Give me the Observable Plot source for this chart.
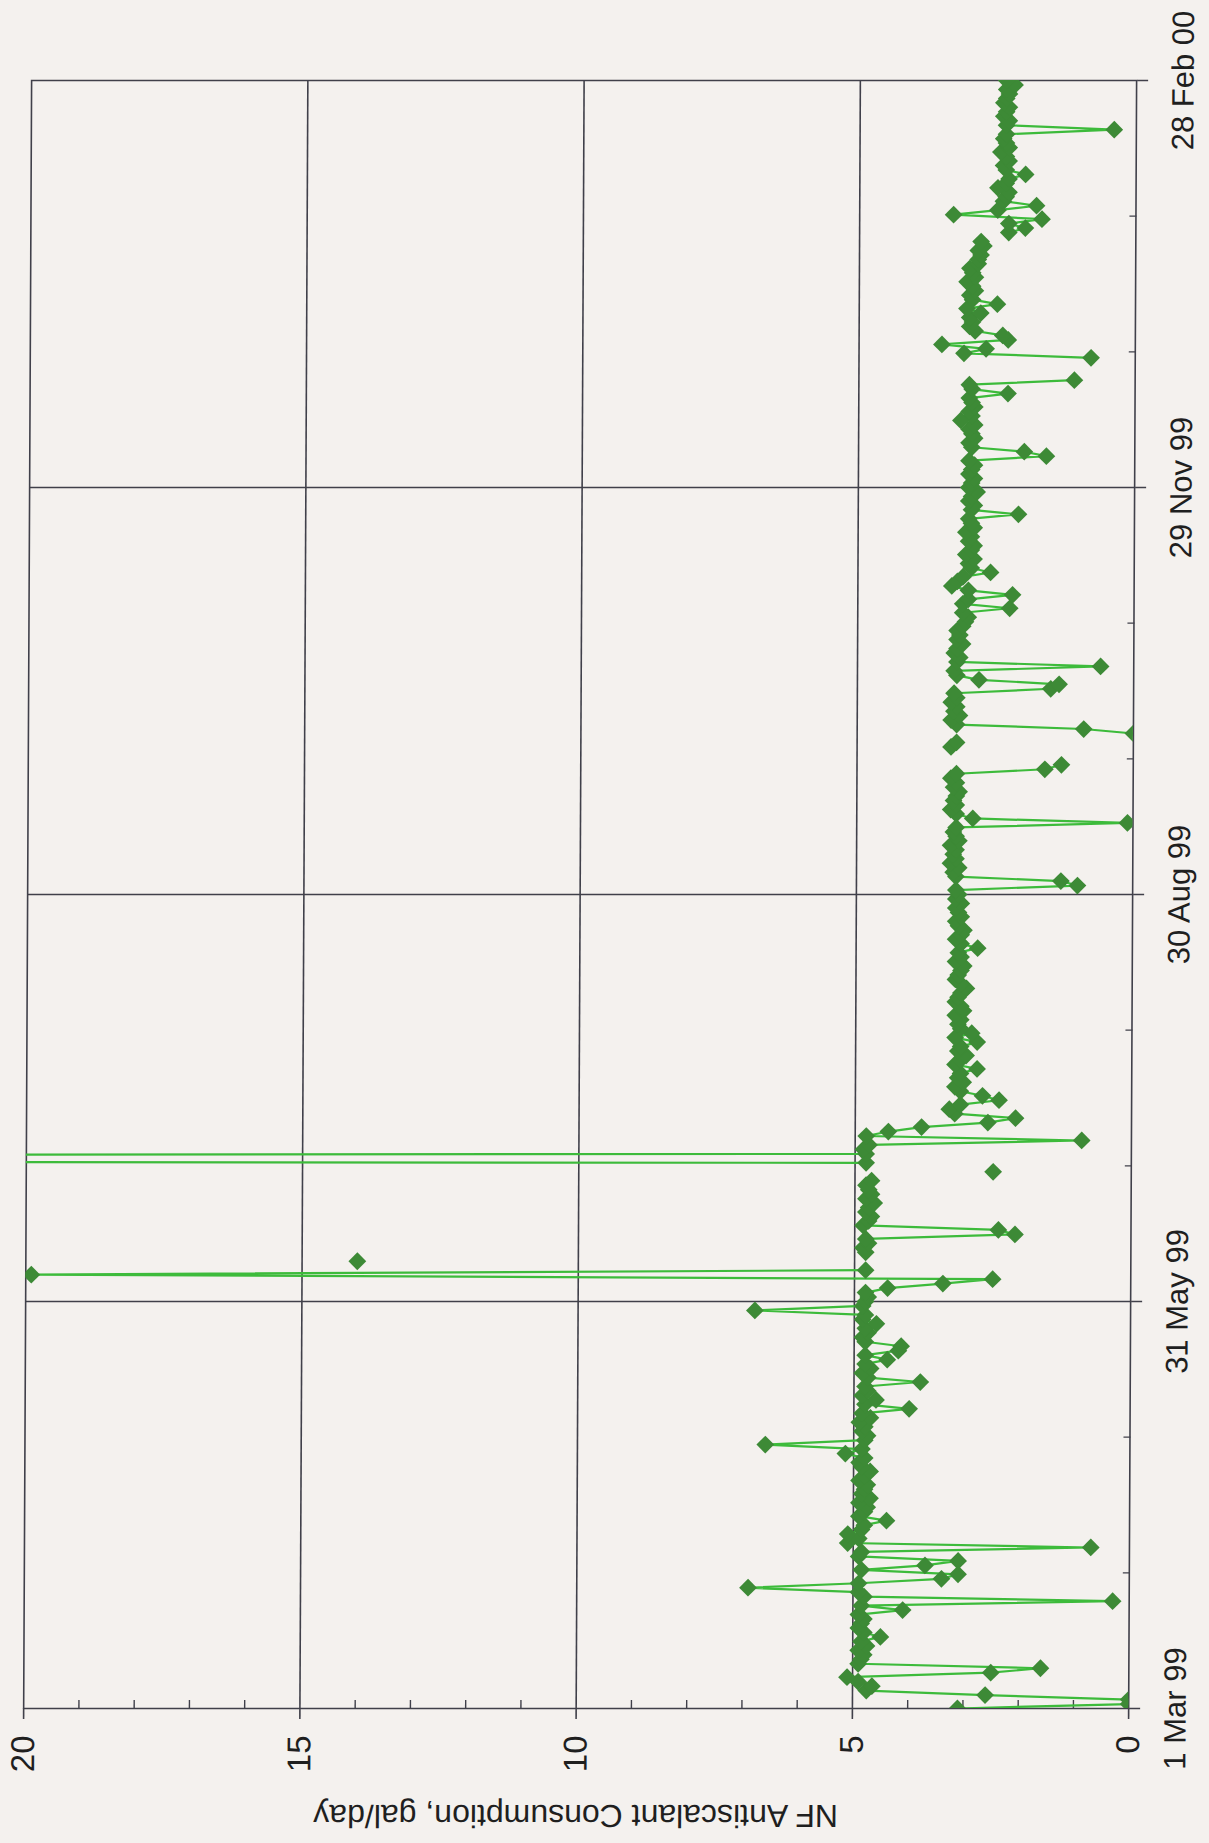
<!DOCTYPE html>
<html>
<head>
<meta charset="utf-8">
<script src="https://cdn.jsdelivr.net/npm/d3@7"></script>
<script src="https://cdn.jsdelivr.net/npm/@observablehq/plot@0.6"></script>
<style>
  html, body { margin: 0; padding: 0; background: #f4f1ee; }
  #chart { width: 1209px; height: 1843px; overflow: hidden; }
  #chart svg { transform: skewX(-0.28deg); transform-origin: 50% 50%; }
</style>
</head>
<body>
<div id="chart"></div>
<script>
// Daily NF antiscalant consumption, gal/day (null = no reading)
const mar99 = [3.1, 0, 0, 2.6, 4.75, 4.65, 4.9, 5.1, 2.5, 1.6, 4.9, 4.85, 4.8, 4.9, 4.75, 4.85, 4.5, 4.8, 4.9, 4.85, 4.8, 4.9, 4.1, 4.85, 0.3, 4.8, 4.9, 6.9, 4.9, 3.4, 3.1];
const apr99 = [4.85, 3.7, 3.1, 4.9, 4.85, 0.7, 5.1, 4.9, 5.1, 4.85, 4.8, 4.4, 4.9, 4.8, 4.75, 4.9, 4.7, 4.85, 4.8, 4.75, 4.9, 4.8, 4.7, 4.85, 4.9, 4.8, 5.15, 4.85, 6.6, 4.8];
const may99 = [4.75, 4.85, 4.8, 4.9, 4.7, 4.85, 4.0, 4.8, 4.6, 4.85, 4.75, 4.8, 3.8, 4.75, 4.85, 4.7, 4.8, 4.4, 4.8, 4.2, 4.15, 4.8, 4.85, 4.75, 4.8, 4.6, 4.85, 4.8, 6.8, 4.85, 4.8];
const jun99 = [4.75, 4.8, 4.4, 3.4, 2.5, 19.9, 4.8, null, 14.0, null, 4.8, 4.85, 4.75, 4.8, 2.1, 2.4, 4.85, 4.75, 4.7, 4.8, 4.75, 4.65, 4.8, 4.7, 4.75, 4.8, 4.7, null, 2.5, null];
const jul99 = [4.8, 100, 4.8, 4.85, 4.75, 0.9, 4.8, 4.4, 3.8, 2.6, 2.1, 3.2, 3.3, 3.1, 2.4, 2.7, 3.1, 3.2, 3.05, 3.15, 3.1, 2.8, 3.2, 3.1, 3.0, 3.15, 3.1, 2.8, 3.2, 2.9, 3.1];
const aug99 = [3.15, 3.1, 3.2, 3.05, 3.1, 3.2, 3.15, 3.1, 3.0, 3.1, 3.2, 3.15, 3.1, 3.05, 3.2, 3.1, 3.15, 2.8, 3.1, 3.2, 3.1, 3.05, 3.15, 3.2, 3.1, 3.15, 3.2, 3.1, 3.2, 3.15, 3.2];
const sep99 = [1.0, 1.3, 3.2, 3.25, 3.15, 3.3, 3.2, 3.25, 3.2, 3.3, 3.15, 3.2, 3.25, 3.2, 0.1, 2.9, 3.2, 3.3, 3.2, 3.25, 3.2, 3.15, 3.25, 3.2, 3.3, 3.2, 1.6, 1.3, null, null];
const oct99 = [null, 3.3, 3.2, null, 0.0, 0.9, 3.2, 3.3, 3.15, 3.25, 3.2, 3.3, 3.2, 3.25, 1.5, 1.35, 2.8, 3.2, 3.25, 0.6, 3.2, 3.15, 3.25, 3.2, 3.1, 3.2, 3.15, 3.2, 3.1, 3.05, 3.0];
const nov99 = [3.1, 2.25, 3.1, 3.0, 2.2, 3.0, 3.3, 3.2, 3.1, 2.6, 2.95, 3.0, 2.9, 3.05, 2.95, 2.9, 3.0, 2.95, 3.05, 2.9, 2.95, 3.0, 2.1, 2.95, 2.9, 3.0, 2.95, 2.85, 3.0, 2.95];
const dec99 = [2.9, 3.0, 2.95, 2.9, 3.0, 1.6, 2.0, 2.95, 3.0, 2.9, 2.95, 3.0, 2.9, 3.15, 2.95, 3.0, 2.9, 2.95, 3.0, 2.3, 2.95, 3.0, 1.1, null, null, null, null, 0.8, 3.1, 2.7, 3.5];
const jan00 = [2.3, 2.4, 2.9, 3.0, 2.95, 3.0, 2.8, 3.05, 2.5, 2.95, 3.0, 2.9, 2.95, 3.05, 2.9, 2.95, 3.0, 2.85, 2.85, 2.8, 2.85, 2.75, 2.8, null, 2.3, 2.0, 2.3, 1.7, 3.3, 2.5, 1.8];
const feb00 = [2.4, 2.35, 2.3, 2.5, 2.35, 2.3, 2.0, 2.35, 2.4, 2.3, 2.35, 2.45, 2.3, 2.35, 2.4, 2.35, 0.4, 2.35, 2.3, 2.4, 2.35, 2.3, 2.4, 2.35, 2.3, 2.35, 2.2, 2.35];

// Axis ticks and labels
const dateTickDates = ["1999-03-01", "1999-05-31", "1999-08-30", "1999-11-29", "2000-02-28"];
const dateTickLabels = ["1 Mar 99", "31 May 99", "30 Aug 99", "29 Nov 99", "28 Feb 00"];
const valueTicks = [0, 5, 10, 15, 20];
const valueMinorTicks = [1, 2, 3, 4, 6, 7, 8, 9, 11, 12, 13, 14, 16, 17, 18, 19];
const yTitle = "NF Antiscalant Consumption, gal/day";

const values = [mar99, apr99, may99, jun99, jul99, aug99, sep99, oct99, nov99, dec99, jan00, feb00].flat();
const data = values.map((v, i) => ({date: new Date(Date.UTC(1999, 2, 1 + i)), value: v}));
const dotData = data.filter(d => d.value != null);

const majorDates = dateTickDates.map(s => new Date(s));
const minorDates = [];
for (let i = 0; i < majorDates.length - 1; i++) {
  const step = (majorDates[i + 1] - majorDates[i]) / 3;
  minorDates.push(new Date(+majorDates[i] + step), new Date(+majorDates[i] + 2 * step));
}
const dateLabelData = majorDates.map((d, i) => ({date: d, label: dateTickLabels[i]}));

const ink = "#40404a";
const textInk = "#1f1f1f";
const font = "'Liberation Sans', Arial, Helvetica, sans-serif";

const chart = Plot.plot({
  width: 1209,
  height: 1843,
  marginLeft: 27,
  marginRight: 77,
  marginTop: 80,
  marginBottom: 135,
  style: {background: "#f4f1ee", fontFamily: font, color: ink, overflow: "visible"},
  x: {domain: [0, 20], reverse: true},
  y: {type: "utc", domain: [majorDates[0], majorDates[majorDates.length - 1]]},
  marks: [
    Plot.ruleX([5, 10, 15], {stroke: ink, strokeWidth: 1.6}),
    Plot.ruleY(majorDates.slice(1, -1), {stroke: ink, strokeWidth: 1.6}),
    Plot.frame({stroke: ink, strokeWidth: 1.6}),
    Plot.axisX(valueTicks, {anchor: "bottom", tickSize: 11, tickFormat: () => "", label: null, stroke: ink, strokeWidth: 1.6}),
    Plot.axisX(valueMinorTicks, {anchor: "bottom", tickSize: 8, dy: -8, tickFormat: () => "", label: null, stroke: ink, strokeWidth: 1.4}),
    Plot.axisY(majorDates, {anchor: "right", tickSize: 11, tickFormat: () => "", label: null, stroke: ink, strokeWidth: 1.6}),
    Plot.axisY(minorDates, {anchor: "right", tickSize: 7, dx: -7, tickFormat: () => "", label: null, stroke: ink, strokeWidth: 1.4}),
    Plot.line(data, {x: "value", y: "date", stroke: "#3dbb3b", strokeWidth: 2.2, clip: true}),
    Plot.dot(dotData, {x: "value", y: "date", symbol: "diamond2", r: 8, fill: "#3d8a36", stroke: "none", clip: true}),
    Plot.text(valueTicks, {x: d => d, text: d => String(d), frameAnchor: "bottom", dy: 27, rotate: -90, textAnchor: "end", lineAnchor: "middle", fontSize: 33, fill: textInk, fontFamily: font}),
    Plot.text(dateLabelData, {y: "date", text: "label", frameAnchor: "right", dx: 35, rotate: -90, textAnchor: "middle", lineAnchor: "top", fontSize: 31, fill: textInk, fontFamily: font}),
    Plot.text([yTitle], {text: d => d, frameAnchor: "bottom", dy: 107, rotate: 180, textAnchor: "middle", lineAnchor: "middle", fontSize: 32, fill: textInk, fontFamily: font})
  ]
});
document.getElementById("chart").appendChild(chart);
</script>
</body>
</html>
